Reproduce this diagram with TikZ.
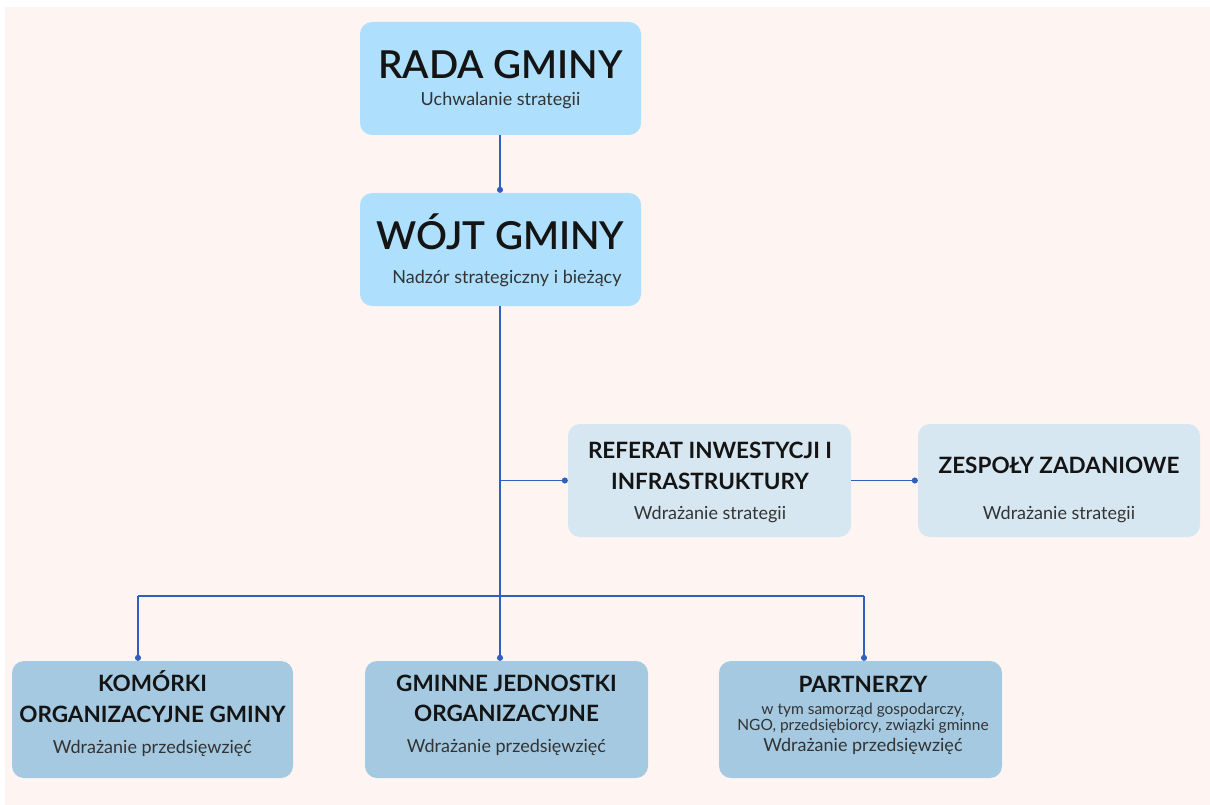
\documentclass[tikz,border=0pt]{standalone}
\usepackage{fontspec}
\setmainfont{Lato}
\newfontfamily\latosemi{Lato Semibold}
\usetikzlibrary{arrows.meta,calc}
\definecolor{bgpink}{HTML}{FEF5F3}
\definecolor{topblue}{HTML}{AEDFFC}
\definecolor{midblue}{HTML}{D6E7F1}
\definecolor{lowblue}{HTML}{A4C9E1}
\definecolor{linkblue}{HTML}{2F5FBF}
\definecolor{titlecol}{HTML}{141414}
\definecolor{subcol}{HTML}{333333}
\tikzset{
  box/.style={rounded corners=12pt, inner sep=0pt, draw=none},
  bigtitle/.style={anchor=base, text=titlecol, font=\fontsize{38.5}{44}\selectfont\latosemi, inner sep=0pt},
  sectitle/.style={anchor=base, text=titlecol, font=\fontsize{22.5}{26}\selectfont\bfseries, inner sep=0pt},
  subtext/.style={anchor=base, text=subcol, font=\fontsize{18}{21}\selectfont, inner sep=0pt},
  smalltext/.style={anchor=base, text=subcol, font=\fontsize{15.5}{18}\selectfont, inner sep=0pt},
  link/.style={draw=linkblue, line width=1.6pt},
  dotlink/.style={link, -{Circle[length=6pt]}},
}
\begin{document}
\begin{tikzpicture}[x=1pt,y=-1pt]
\useasboundingbox (0,0) rectangle (1210,805);
\fill[white] (0,0) rectangle (1210,805);
\fill[bgpink] (5,7) rectangle (1210,805);

% boxes
\node[box, fill=topblue, minimum width=281pt, minimum height=113pt] (rada) at (500.5,78.5) {};
\node[box, fill=topblue, minimum width=281pt, minimum height=113pt] (wojt) at (500.5,249.5) {};
\node[box, fill=midblue, minimum width=283pt, minimum height=113pt] (referat) at (709.5,480.5) {};
\node[box, fill=midblue, minimum width=282pt, minimum height=113pt] (zespoly) at (1059,480.5) {};
\node[box, fill=lowblue, minimum width=281pt, minimum height=117pt] (komorki) at (152.5,719.5) {};
\node[box, fill=lowblue, minimum width=283pt, minimum height=117pt] (gminne) at (506.5,719.5) {};
\node[box, fill=lowblue, minimum width=283pt, minimum height=117pt] (partnerzy) at (860.5,719.5) {};

% texts
\node[bigtitle] (radaT) at (500.5,79) {RADA GMINY};
\node[subtext] (radaS) at (500.5,106) {Uchwalanie strategii};
\node[bigtitle] (wojtT) at (500.5,250) {WÓJT GMINY};
\node[subtext] (wojtS) at (507,283) {Nadzór strategiczny i bieżący};

\node[sectitle] (refT1) at (710,458) {REFERAT INWESTYCJI I};
\node[sectitle] (refT2) at (710,489) {INFRASTRUKTURY};
\node[subtext] (refS) at (710,519) {Wdrażanie strategii};

\node[sectitle] (zesT) at (1059,473) {ZESPOŁY ZADANIOWE};
\node[subtext] (zesS) at (1059,519) {Wdrażanie strategii};

\node[sectitle] (komT1) at (152.5,691) {KOMÓRKI};
\node[sectitle] (komT2) at (152.5,722) {ORGANIZACYJNE GMINY};
\node[subtext] (komS) at (152.5,753) {Wdrażanie przedsięwzięć};

\node[sectitle] (gmiT1) at (506.5,691.5) {GMINNE JEDNOSTKI};
\node[sectitle] (gmiT2) at (506.5,721.5) {ORGANIZACYJNE};
\node[subtext] (gmiS) at (506.5,752.5) {Wdrażanie przedsięwzięć};

\node[sectitle] (parT) at (863,692) {PARTNERZY};
\node[smalltext] (parS1) at (863,714) {w tym samorząd gospodarczy,};
\node[smalltext] (parS2) at (863,730.5) {NGO, przedsiębiorcy, związki gminne};
\node[subtext] (parS) at (863,751.5) {Wdrażanie przedsięwzięć};

% connectors
\coordinate (busL) at (138,596);
\coordinate (busR) at (864,596);
\coordinate (wojtB) at (500,306);
\draw[dotlink] (rada.south -| wojtB) -- (wojt.north -| wojtB);
\draw[dotlink] (wojtB) -- (wojtB |- gminne.north);
\draw[dotlink] (wojtB |- referat.west) -- (referat.west);
\draw[dotlink] (referat.east) -- (zespoly.west);
\draw[link] (busL) -- (busR);
\draw[dotlink] (busL) -- (busL |- komorki.north);
\draw[dotlink] (busR) -- (busR |- partnerzy.north);
\end{tikzpicture}
\end{document}
